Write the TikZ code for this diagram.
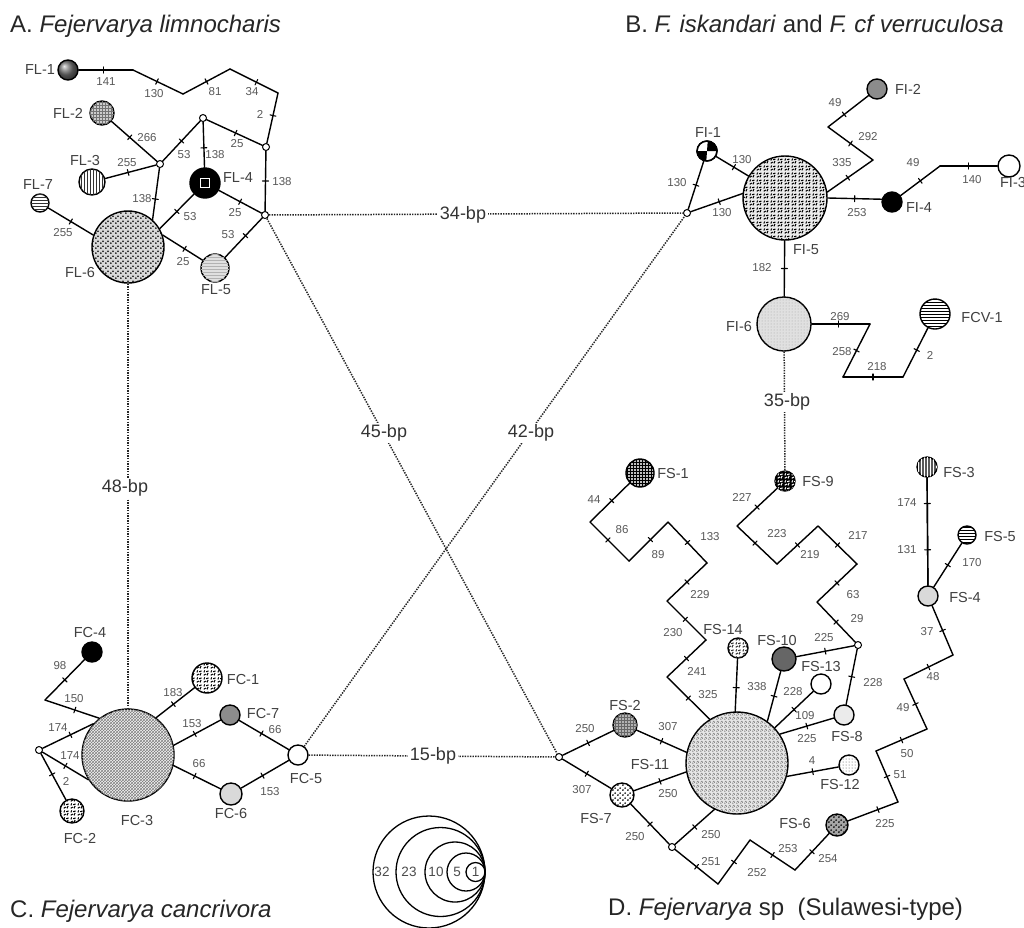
\documentclass[tikz,border=0pt]{standalone}
\usepackage{fontspec}
\setmainfont{Liberation Sans}
\usetikzlibrary{patterns,decorations.markings}
\pgfdeclarepatternformonly{specks}{\pgfqpoint{0pt}{0pt}}{\pgfqpoint{4.5pt}{4.5pt}}{\pgfqpoint{4.5pt}{4.5pt}}{%
  \pgfpathcircle{\pgfqpoint{1pt}{1pt}}{0.95pt}%
  \pgfpathcircle{\pgfqpoint{3.3pt}{3.1pt}}{0.95pt}%
  \pgfusepath{fill}}
\pgfdeclarepatternformonly{finespecks}{\pgfqpoint{0pt}{0pt}}{\pgfqpoint{4pt}{4pt}}{\pgfqpoint{4pt}{4pt}}{%
  \pgfpathcircle{\pgfqpoint{1pt}{1pt}}{0.65pt}%
  \pgfpathcircle{\pgfqpoint{3pt}{2.4pt}}{0.65pt}%
  \pgfpathcircle{\pgfqpoint{1.6pt}{3.3pt}}{0.5pt}%
  \pgfusepath{fill}}
\pgfdeclarepatternformonly{squig}{\pgfqpoint{0pt}{0pt}}{\pgfqpoint{7pt}{7pt}}{\pgfqpoint{7pt}{7pt}}{%
  \pgfsetlinewidth{1.15pt}%
  \pgfpathmoveto{\pgfqpoint{0.8pt}{0.8pt}}\pgfpathlineto{\pgfqpoint{3.2pt}{2.2pt}}%
  \pgfpathmoveto{\pgfqpoint{4.5pt}{0.7pt}}\pgfpathlineto{\pgfqpoint{5.6pt}{3.4pt}}%
  \pgfpathmoveto{\pgfqpoint{1pt}{4pt}}\pgfpathlineto{\pgfqpoint{1.9pt}{6.2pt}}%
  \pgfpathmoveto{\pgfqpoint{3.5pt}{4.8pt}}\pgfpathlineto{\pgfqpoint{6.2pt}{5.6pt}}%
  \pgfusepath{stroke}}
\newcounter{elabc}
\newcommand\hseg[3][0.5]{\draw[edge, tk=#1] (#2) -- (#3);}
\newcommand\edgelab[2]{\stepcounter{elabc}\node[elab] (E\arabic{elabc}) at (#1) {#2};}
\begin{document}
\begin{tikzpicture}[x=1pt, y=-1pt,
  hap/.style={circle, draw, line width=1.4pt, inner sep=0pt, minimum size=#1pt},
  med/.style={circle, draw, fill=white, line width=1pt, inner sep=0pt, minimum size=7pt},
  hl/.style={font=\fontsize{14.5}{16}\selectfont, text=black!75, inner sep=1pt},
  elab/.style={font=\fontsize{11.5}{13}\selectfont, text=black!65, inner sep=0.5pt},
  bp/.style={font=\fontsize{18}{20}\selectfont, text=black!80, fill=white, inner sep=2pt},
  ttl/.style={font=\fontsize{24}{28}\selectfont, text=black!85, inner sep=0pt},
  lg/.style={circle, draw, line width=1.3pt, inner sep=0pt, minimum size=#1pt},
  lgt/.style={font=\fontsize{13.5}{15}\selectfont, text=black!70, inner sep=0pt},
  edge/.style={line width=1.4pt, line cap=round},
  dotline/.style={line width=1.5pt, dash pattern=on 1.4pt off 1.2pt, draw=black!85},
  tk/.style={postaction={decorate, decoration={markings, mark=at position #1 with {\draw[line width=1.1pt] (0pt,-3pt) -- (0pt,3pt);}}}},
  tk/.default=0.5
]
\useasboundingbox (0,0) rectangle (1024,927);
\fill[white] (0,0) rectangle (1024,927);

% ---------- titles
\node[ttl, anchor=base west] (titA) at (10,32) {A. \textit{Fejervarya limnocharis}};
\node[ttl, anchor=base east] (titB) at (1004,32) {B. \textit{F. iskandari} and \textit{F. cf verruculosa}};
\node[ttl, anchor=base west] (titC) at (10,917) {C. \textit{Fejervarya cancrivora}};
\node[ttl, anchor=base west] (titD) at (608,915) {D. \textit{Fejervarya} sp\ \ (Sulawesi-type)};

% ---------- A
\node[hap=20, ball color=black!55] (FL1) at (68,70) {};
\node[hap=24, fill=black!20, postaction={pattern=grid, pattern color=black!55}] (FL2) at (102,113) {};
\node[hap=26, fill=white, postaction={pattern=vertical lines, pattern color=black!80}] (FL3) at (92,182) {};
\node[hap=18, fill=white, postaction={pattern=horizontal lines, pattern color=black!80}] (FL7) at (40,203) {};
\node[hap=72, fill=black!15, postaction={pattern=specks, pattern color=black}] (FL6) at (128,247) {};
\node[hap=30, fill=black] (FL4) at (205,183) {};
\node[draw=white, line width=1.5pt, minimum size=9pt, inner sep=0pt, fill=black] (FL4in) at (205,183) {};
\node[hap=28, fill=black!12, postaction={pattern=horizontal lines, pattern color=black!30}] (FL5) at (215,268) {};
\node[med] (N1) at (203,118) {};
\node[med] (N2) at (266,147) {};
\node[med] (N3) at (160,164) {};
\node[med] (N4) at (265,215) {};

\node[hl] (tFL1) at (40,70) {FL-1};
\node[hl] (tFL2) at (68,113) {FL-2};
\node[hl] (tFL3) at (85,161) {FL-3};
\node[hl] (tFL7) at (38,185) {FL-7};
\node[hl] (tFL6) at (80,273) {FL-6};
\node[hl] (tFL4) at (238,178) {FL-4};
\node[hl] (tFL5) at (216,290) {FL-5};

\coordinate (a1) at (133,70);
\coordinate (a2) at (183,94);
\coordinate (a3) at (230,69);
\coordinate (a4) at (278,93);
\hseg[0.45]{FL1}{a1}
\hseg[0.48]{a1}{a2}
\hseg[0.5]{a2}{a3}
\hseg[0.55]{a3}{a4}
\hseg[0.45]{a4}{N2}
\hseg[0.4]{FL2}{N3}
\hseg[0.45]{FL3}{N3}
\hseg[0.5]{N3}{N1}
\hseg[0.57]{N1}{FL4}
\hseg[0.52]{N1}{N2}
\hseg[0.5]{N2}{N4}
\hseg[0.6]{N3}{FL6.48}
\hseg[0.5]{FL6.30}{FL4}
\hseg[0.55]{FL6.19}{FL5}
\hseg[0.5]{FL4}{N4}
\hseg[0.5]{FL7}{FL6.161}
\hseg[0.55]{FL5}{N4}

\edgelab{106,82}{141}
\edgelab{154,94}{130}
\edgelab{215,92}{81}
\edgelab{252,92}{34}
\edgelab{260,114}{2}
\edgelab{147,138}{266}
\edgelab{127,163}{255}
\edgelab{184,155}{53}
\edgelab{215,155}{138}
\edgelab{237,144}{25}
\edgelab{282,182}{138}
\edgelab{142,199}{138}
\edgelab{235,213}{25}
\edgelab{190,217}{53}
\edgelab{63,233}{255}
\edgelab{183,262}{25}
\edgelab{228,235}{53}

% ---------- B
\node[hap=20, fill=white] (FI1) at (707,151) {};
\fill[black] (FI1.center) -- (FI1.east) arc[start angle=0, end angle=90, radius=10pt] -- cycle;
\fill[black] (FI1.center) -- (FI1.west) arc[start angle=180, end angle=270, radius=10pt] -- cycle;
\draw[line width=1.4pt] (FI1.center) circle[radius=10pt];
\node[med] (NB) at (687,213) {};
\node[hap=84, fill=black!8, postaction={pattern=squig, pattern color=black}] (FI5) at (785,198) {};
\node[hap=20, fill=black!45] (FI2) at (877,89) {};
\node[hap=22, fill=white] (FI3) at (1009,166) {};
\node[hap=20, fill=black] (FI4) at (892,202) {};
\node[hap=54, fill=black!12, postaction={pattern=dots, pattern color=black!35}] (FI6) at (784,324) {};
\node[hap=30, fill=white, postaction={pattern=horizontal lines, pattern color=black}] (FCV1) at (935,314) {};

\node[hl] (tFI1) at (708,133) {FI-1};
\node[hl] (tFI5) at (806,250) {FI-5};
\node[hl] (tFI4) at (919,208) {FI-4};
\node[hl] (tFI3) at (1013,183) {FI-3};
\node[hl] (tFI2) at (908,89) {FI-2};
\node[hl] (tFI6) at (739,326) {FI-6};
\node[hl] (tFCV1) at (982,317) {FCV-1};

\coordinate (b1) at (940,166);
\coordinate (b2) at (873,160);
\coordinate (b3) at (828,127);
\coordinate (b4) at (870,324);
\coordinate (b5) at (843,377);
\coordinate (b6) at (903,377);
\hseg[0.5]{NB}{FI1}
\hseg[0.55]{FI1}{FI5}
\hseg[0.55]{NB}{FI5.174}
\hseg[0.5]{FI5.east}{FI4.165}
\hseg[0.5]{FI4}{b1}
\hseg[0.5]{b1}{FI3}
\hseg[0.45]{FI5.8}{b2}
\hseg[0.5]{b2}{b3}
\hseg[0.4]{b3}{FI2}
\hseg[0.5]{FI5}{FI6}
\hseg[0.46]{FI6}{b4}
\hseg[0.5]{b4}{b5}
\hseg[0.5]{b5}{b6}
\hseg[0.55]{b6}{FCV1}

\edgelab{742,160}{130}
\edgelab{677,183}{130}
\edgelab{722,213}{130}
\edgelab{857,213}{253}
\edgelab{913,163}{49}
\edgelab{972,180}{140}
\edgelab{835,103}{49}
\edgelab{868,137}{292}
\edgelab{842,163}{335}
\edgelab{762,268}{182}
\edgelab{840,317}{269}
\edgelab{842,352}{258}
\edgelab{877,367}{218}
\edgelab{930,355}{2}

% ---------- C
\node[hap=92, fill=black!4, postaction={pattern=crosshatch, pattern color=black!50}] (FC3) at (128,755) {};
\node[hap=20, fill=black] (FC4) at (92,652) {};
\node[hap=30, fill=white, postaction={pattern=squig, pattern color=black}] (FC1) at (207,678) {};
\node[hap=20, fill=black!45] (FC7) at (230,715) {};
\node[hap=20, fill=white] (FC5) at (298,755) {};
\node[hap=22, fill=black!15] (FC6) at (231,794) {};
\node[hap=24, fill=white, postaction={pattern=squig, pattern color=black}] (FC2) at (72,811) {};
\node[med] (NC2) at (39,750) {};

\node[hl] (tFC4) at (90,632) {FC-4};
\node[hl] (tFC1) at (243,679) {FC-1};
\node[hl] (tFC7) at (263,713) {FC-7};
\node[hl] (tFC5) at (306,778) {FC-5};
\node[hl] (tFC6) at (231,813) {FC-6};
\node[hl] (tFC3) at (137,820) {FC-3};
\node[hl] (tFC2) at (80,838) {FC-2};

\coordinate (c1) at (45,700);
\hseg[0.5]{FC4}{c1}
\hseg[0.55]{c1}{FC3.128}
\hseg[0.55]{NC2}{FC3.138}
\hseg[0.5]{NC2}{FC3.212}
\hseg[0.45]{NC2}{FC2}
\hseg[0.45]{FC3.53}{FC1}
\hseg[0.45]{FC3.12}{FC7}
\hseg[0.45]{FC3.-13}{FC6}
\hseg[0.45]{FC7}{FC5}
\hseg[0.45]{FC6}{FC5}

\edgelab{60,666}{98}
\edgelab{74,699}{150}
\edgelab{58,728}{174}
\edgelab{70,756}{174}
\edgelab{66,781}{2}
\edgelab{173,693}{183}
\edgelab{192,724}{153}
\edgelab{275,730}{66}
\edgelab{199,764}{66}
\edgelab{270,792}{153}

% ---------- D
\node[med] (ND1) at (559,757) {};
\node[hap=24, fill=black!30, postaction={pattern=grid, pattern color=black!60}] (FS2) at (625,725) {};
\node[hap=102, fill=black!10, postaction={pattern=finespecks, pattern color=black!80}] (FS11) at (737,763) {};
\node[hap=24, fill=white, postaction={pattern=specks, pattern color=black}] (FS7) at (622,795) {};
\node[med] (ND2) at (672,847) {};
\node[hap=22, fill=black!35, postaction={pattern=specks, pattern color=black}] (FS6) at (837,825) {};
\node[hap=20, fill=black!15] (FS4) at (928,596) {};
\node[hap=20, fill=black!65, postaction={pattern=vertical lines, pattern color=white}] (FS3) at (927,467) {};
\node[hap=18, fill=white, postaction={pattern=horizontal lines, pattern color=black}] (FS5) at (967,535) {};
\node[hap=28, fill=black!25, postaction={pattern=grid, pattern color=black}] (FS1) at (640,473) {};
\node[hap=20, fill=black, postaction={pattern=squig, pattern color=white}] (FS9) at (785,481) {};
\node[hap=20, fill=white, postaction={pattern=squig, pattern color=black!80}] (FS14) at (738,648) {};
\node[hap=24, fill=black!60] (FS10) at (784,659) {};
\node[hap=20, fill=white] (FS13) at (821,684) {};
\node[hap=20, fill=black!8] (FS8) at (844,715) {};
\node[hap=20, fill=white, postaction={pattern=dots, pattern color=black!70}] (FS12) at (849,765) {};
\node[med] (ND3) at (858,645) {};

\node[hl] (tFS1) at (673,473) {FS-1};
\node[hl] (tFS9) at (818,481) {FS-9};
\node[hl] (tFS3) at (959,472) {FS-3};
\node[hl] (tFS5) at (1000,536) {FS-5};
\node[hl] (tFS4) at (965,597) {FS-4};
\node[hl] (tFS14) at (723,629) {FS-14};
\node[hl] (tFS10) at (777,640) {FS-10};
\node[hl] (tFS13) at (821,666) {FS-13};
\node[hl] (tFS8) at (847,736) {FS-8};
\node[hl] (tFS2) at (625,705) {FS-2};
\node[hl] (tFS11) at (650,764) {FS-11};
\node[hl] (tFS7) at (596,818) {FS-7};
\node[hl] (tFS12) at (840,784) {FS-12};
\node[hl] (tFS6) at (795,823) {FS-6};

\coordinate (d1) at (590,522);
\coordinate (d2) at (629,561);
\coordinate (d3) at (668,522);
\coordinate (d4) at (707,563);
\coordinate (d5) at (667,601);
\coordinate (d6) at (706,640);
\coordinate (d7) at (667,677);
\hseg[0.45]{FS1}{d1}
\hseg[0.46]{d1}{d2}
\hseg[0.55]{d2}{d3}
\hseg[0.5]{d3}{d4}
\hseg[0.5]{d4}{d5}
\hseg[0.47]{d5}{d6}
\hseg[0.5]{d6}{d7}
\hseg[0.5]{d7}{FS11.122}

\coordinate (e1) at (737,526);
\coordinate (e2) at (777,564);
\coordinate (e3) at (818,526);
\coordinate (e4) at (857,564);
\coordinate (e5) at (817,602);
\hseg[0.5]{FS9}{e1}
\hseg[0.45]{e1}{e2}
\hseg[0.5]{e2}{e3}
\hseg[0.5]{e3}{e4}
\hseg[0.5]{e4}{e5}
\hseg[0.5]{e5}{ND3}
\hseg[0.5]{ND3}{FS10}
\hseg[0.5]{ND3}{FS8}
\hseg[0.55]{FS14}{FS11.92}
\hseg[0.5]{FS10}{FS11.54}
\hseg[0.5]{FS13}{FS11.43}
\hseg[0.5]{FS8}{FS11.34}
\hseg[0.5]{FS12}{FS11.-15}
\hseg[0.5]{ND1}{FS2}
\hseg[0.5]{FS2}{FS11.168}
\hseg[0.5]{ND1}{FS7}
\hseg[0.5]{FS7}{FS11.190}
\hseg[0.5]{FS7}{ND2}
\hseg[0.5]{ND2}{FS11.244}

\coordinate (f1) at (718,884);
\coordinate (f2) at (750,840);
\coordinate (f3) at (795,870);
\hseg[0.5]{ND2}{f1}
\hseg[0.5]{f1}{f2}
\hseg[0.5]{f2}{f3}
\hseg[0.5]{f3}{FS6}

\coordinate (g1) at (898,802);
\coordinate (g2) at (876,751);
\coordinate (g3) at (927,729);
\coordinate (g4) at (904,679);
\coordinate (g5) at (953,655);
\hseg[0.6]{FS6}{g1}
\hseg[0.5]{g1}{g2}
\hseg[0.5]{g2}{g3}
\hseg[0.5]{g3}{g4}
\hseg[0.5]{g4}{g5}
\hseg[0.5]{g5}{FS4}
\hseg[0.24]{FS3}{FS4}
\hseg[0.67]{FS3}{FS4}
\hseg[0.5]{FS4}{FS5}

\edgelab{594,500}{44}
\edgelab{622,530}{86}
\edgelab{658,555}{89}
\edgelab{710,537}{133}
\edgelab{700,595}{229}
\edgelab{673,633}{230}
\edgelab{697,671}{241}
\edgelab{708,695}{325}
\edgelab{742,497}{227}
\edgelab{777,534}{223}
\edgelab{810,555}{219}
\edgelab{858,535}{217}
\edgelab{853,595}{63}
\edgelab{857,619}{29}
\edgelab{824,638}{225}
\edgelab{873,683}{228}
\edgelab{757,687}{338}
\edgelab{793,692}{228}
\edgelab{805,716}{109}
\edgelab{807,739}{225}
\edgelab{812,761}{4}
\edgelab{907,503}{174}
\edgelab{907,550}{131}
\edgelab{972,563}{170}
\edgelab{927,632}{37}
\edgelab{933,677}{48}
\edgelab{903,708}{49}
\edgelab{907,754}{50}
\edgelab{900,775}{51}
\edgelab{885,824}{225}
\edgelab{585,729}{250}
\edgelab{668,727}{307}
\edgelab{582,790}{307}
\edgelab{668,794}{250}
\edgelab{635,837}{250}
\edgelab{711,835}{250}
\edgelab{711,862}{251}
\edgelab{757,873}{252}
\edgelab{788,849}{253}
\edgelab{828,859}{254}

% ---------- dotted links between groups
\draw[dotline] (N4) -- (NB);
\draw[dotline] (N4) -- (ND1);
\draw[dotline] (FL6.south) -- (FC3.north);
\draw[dotline] (FC5) -- (NB);
\draw[dotline] (FC5) -- (ND1);
\draw[dotline] (FI6) -- (FS9);
\node[bp] (bp34) at (463,215) {34-bp};
\node[bp] (bp45) at (384,433) {45-bp};
\node[bp] (bp42) at (531,433) {42-bp};
\node[bp] (bp48) at (125,488) {48-bp};
\node[bp] (bp15) at (433,756) {15-bp};
\node[bp] (bp35) at (787,402) {35-bp};

% ---------- legend
\node[lg=112] (L32) at (429,872) {};
\node[lg=89] (L23) at (440.5,872) {};
\node[lg=60] (L10) at (455,872) {};
\node[lg=38] (L5) at (466,872) {};
\node[lg=19] (L1) at (475.5,872) {};
\node[lgt] (tL32) at (382,872) {32};
\node[lgt] (tL23) at (409,872) {23};
\node[lgt] (tL10) at (436,872) {10};
\node[lgt] (tL5) at (457,872) {5};
\node[lgt] (tL1) at (475.5,872) {1};
\end{tikzpicture}
\end{document}
